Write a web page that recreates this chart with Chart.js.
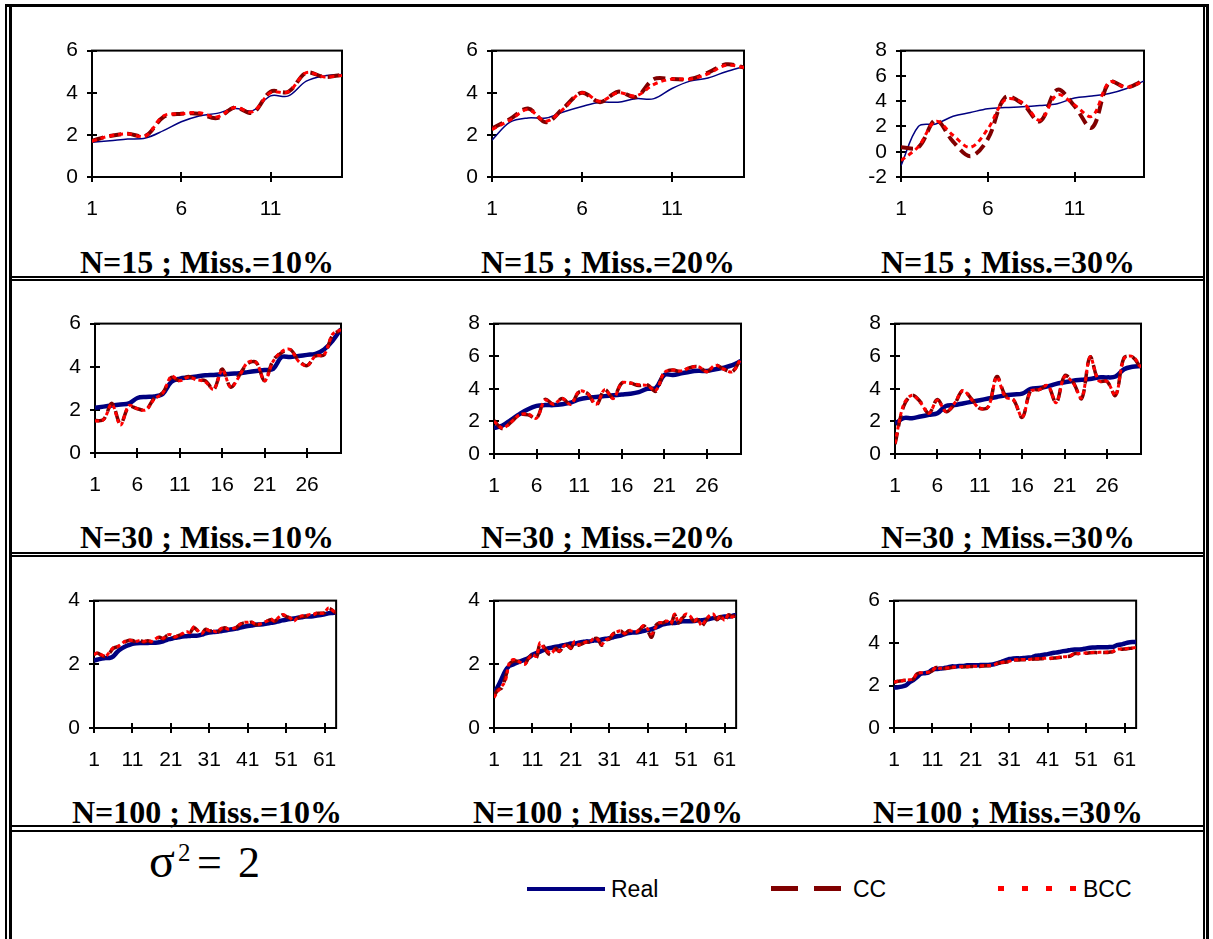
<!DOCTYPE html>
<html>
<head>
<meta charset="utf-8">
<script src="https://cdn.jsdelivr.net/npm/chart.js@4.4.0/dist/chart.umd.min.js"></script>
<style>
  body { margin: 0; background: #fff; width: 1213px; height: 939px; position: relative; overflow: hidden; }
  .ln { position: absolute; background: #000; }
  .title { position: absolute; width: 400px; height: 36px; line-height: 36px; text-align: center;
           font: bold 32px "Liberation Serif", "Times New Roman", serif; color: #000; white-space: nowrap; }
  .leg { position: absolute; font: 23px "Liberation Sans", Arial, sans-serif; color: #000; line-height: 26px; }
  .sw { position: absolute; }
  .eq { position: absolute; font-family: "Liberation Serif", "Times New Roman", serif; color: #000; line-height: 1; }
</style>
</head>
<body>
<span class="eq" style="left:149px;top:837px;font-size:48px">σ</span>
<span class="eq" style="left:178px;top:840px;font-size:25px">2</span>
<span class="eq" style="left:197px;top:841px;font-size:44px">=</span>
<span class="eq" style="left:238px;top:841px;font-size:44px">2</span>

<div class="sw" style="left:527px;top:887px;width:78px;height:4px;background:#000080"></div>
<div class="leg" style="left:611px;top:876px">Real</div>
<div class="sw" style="left:771px;top:886px;width:70px;height:5px;background:repeating-linear-gradient(to right,#800000 0 27px,transparent 27px 43px)"></div>
<div class="leg" style="left:853px;top:876px">CC</div>
<div class="sw" style="left:998px;top:886px;width:78px;height:5px;background:repeating-linear-gradient(to right,#ff0000 0 6px,transparent 6px 24px)"></div>
<div class="leg" style="left:1083px;top:876px">BCC</div>

<script>
// ---- axis ticks ----
const xTicks15 = [1, 6, 11];
const xTicks30 = [1, 6, 11, 16, 21, 26];
const xTicks100 = [1, 11, 21, 31, 41, 51, 61];
const yTicks06 = [0, 2, 4, 6];
const yTicks08 = [0, 2, 4, 6, 8];
const yTicksM28 = [-2, 0, 2, 4, 6, 8];
const yTicks04 = [0, 2, 4];

const titles = [
  "N=15 ; Miss.=10%", "N=15 ; Miss.=20%", "N=15 ; Miss.=30%",
  "N=30 ; Miss.=10%", "N=30 ; Miss.=20%", "N=30 ; Miss.=30%",
  "N=100 ; Miss.=10%", "N=100 ; Miss.=20%", "N=100 ; Miss.=30%"
];

// ---- N=15 ----
const p1Real = [1.65, 1.72, 1.8, 1.85, 2.2, 2.62, 2.9, 3.02, 3.25, 3.15, 3.85, 3.85, 4.55, 4.8, 4.87];
const p1CC   = [1.72, 1.95, 2.05, 1.95, 2.85, 3.0, 3.0, 2.8, 3.3, 3.05, 4.05, 4.05, 4.95, 4.75, 4.85];
const p1BCC  = [1.7, 1.95, 2.05, 1.95, 2.9, 3.0, 3.05, 2.85, 3.3, 3.1, 4.0, 4.05, 4.95, 4.75, 4.82];

const p2Real = [1.75, 2.6, 2.8, 2.8, 3.1, 3.35, 3.55, 3.55, 3.72, 3.72, 4.2, 4.55, 4.7, 5.0, 5.25];
const p2CC   = [2.3, 2.75, 3.25, 2.6, 3.3, 4.0, 3.55, 4.05, 3.8, 4.65, 4.65, 4.65, 4.95, 5.35, 5.2];
const p2BCC  = [2.25, 2.7, 3.2, 2.65, 3.25, 4.0, 3.6, 4.0, 3.85, 4.4, 4.65, 4.65, 4.9, 5.3, 5.2];

const p3Real = [-1.1, 2.0, 2.2, 2.8, 3.1, 3.4, 3.5, 3.55, 3.65, 3.8, 4.25, 4.4, 4.6, 5.0, 5.6];
const p3CC   = [0.35, 0.35, 2.5, 0.8, -0.35, 1.0, 4.3, 3.8, 2.4, 4.9, 3.6, 1.9, 5.5, 5.1, 5.65];
const p3BCC  = [-0.7, 0.4, 2.4, 1.3, 0.35, 1.8, 4.1, 3.9, 2.5, 4.5, 3.7, 2.8, 5.5, 5.1, 5.6];

// ---- N=30 ----
const p4Real = [2.1, 2.15, 2.2, 2.25, 2.3, 2.55, 2.6, 2.62, 2.75, 3.3, 3.45, 3.5, 3.55, 3.6, 3.62,
                3.65, 3.68, 3.7, 3.75, 3.8, 3.85, 3.9, 4.45, 4.45, 4.5, 4.55, 4.6, 4.8, 5.2, 5.75];
const p4CC   = [1.5, 1.55, 2.3, 1.35, 2.15, 2.05, 2.0, 2.55, 2.8, 3.5, 3.35, 3.55, 3.4, 3.35, 2.95,
                3.9, 3.05, 3.6, 4.15, 4.2, 3.35, 4.3, 4.65, 4.8, 4.3, 4.05, 4.5, 4.55, 5.45, 5.7];
const p4BCC  = [1.48, 1.55, 2.25, 1.3, 2.2, 2.05, 2.0, 2.5, 2.78, 3.55, 3.35, 3.5, 3.4, 3.3, 2.95,
                3.85, 3.05, 3.55, 4.2, 4.2, 3.35, 4.25, 4.7, 4.8, 4.25, 4.05, 4.5, 4.55, 5.5, 5.72];

const p5Real = [1.6, 1.75, 2.1, 2.45, 2.75, 2.95, 3.0, 3.0, 3.05, 3.15, 3.35, 3.45, 3.5, 3.55, 3.6,
                3.65, 3.7, 3.8, 4.0, 4.05, 4.85, 4.85, 4.95, 5.05, 5.1, 5.1, 5.2, 5.3, 5.45, 5.7];
const p5CC   = [2.05, 1.55, 1.95, 2.4, 2.4, 2.2, 3.35, 3.05, 3.4, 3.05, 3.8, 3.7, 3.0, 3.95, 3.45,
                4.35, 4.35, 4.2, 4.25, 3.85, 5.0, 5.15, 5.05, 5.3, 5.35, 5.05, 5.45, 5.2, 5.05, 5.9];
const p5BCC  = [2.0, 1.6, 1.95, 2.4, 2.45, 2.2, 3.3, 3.05, 3.4, 3.05, 3.85, 3.7, 3.05, 3.95, 3.4,
                4.35, 4.35, 4.25, 4.2, 3.9, 5.0, 5.15, 5.1, 5.3, 5.35, 5.05, 5.45, 5.2, 5.05, 5.85];

const p6Real = [1.85, 2.2, 2.2, 2.3, 2.4, 2.5, 2.95, 3.0, 3.1, 3.2, 3.3, 3.4, 3.5, 3.6, 3.65,
                3.7, 4.0, 4.05, 4.15, 4.3, 4.4, 4.5, 4.55, 4.6, 4.7, 4.7, 4.75, 5.2, 5.35, 5.4];
const p6CC   = [0.6, 2.9, 3.6, 3.2, 2.5, 3.35, 2.6, 3.05, 3.9, 3.4, 2.8, 2.9, 4.75, 3.6, 3.3,
                2.25, 3.9, 3.95, 4.2, 3.15, 4.8, 4.4, 3.4, 5.95, 4.5, 4.45, 3.6, 5.9, 5.95, 5.25];
const p6BCC  = [0.65, 3.0, 3.6, 3.15, 2.5, 3.3, 2.6, 3.1, 3.9, 3.35, 2.8, 2.9, 4.7, 3.5, 3.3,
                2.25, 3.85, 3.95, 4.2, 3.15, 4.75, 4.35, 3.45, 5.95, 4.5, 4.45, 3.6, 5.85, 5.98, 5.3];

// ---- N=100 ----
const p7Real = [2.12, 2.15, 2.18, 2.2, 2.2, 2.25, 2.38, 2.48,
                2.55, 2.6, 2.64, 2.66, 2.67, 2.67, 2.67, 2.68,
                2.68, 2.69, 2.72, 2.77, 2.8, 2.83, 2.85, 2.87,
                2.88, 2.89, 2.9, 2.9, 2.93, 2.97, 3.0, 3.01,
                3.02, 3.04, 3.06, 3.08, 3.1, 3.12, 3.15, 3.18,
                3.2, 3.22, 3.24, 3.25, 3.26, 3.28, 3.3, 3.32,
                3.35, 3.38, 3.4, 3.42, 3.44, 3.46, 3.48, 3.5,
                3.5, 3.51, 3.53, 3.55, 3.57, 3.6, 3.61, 3.62];
const p7CC   = [2.32, 2.35, 2.28, 2.25, 2.35, 2.5, 2.55, 2.6,
                2.7, 2.75, 2.75, 2.7, 2.75, 2.7, 2.74, 2.7,
                2.78, 2.85, 2.8, 2.9, 2.92, 2.85, 2.9, 2.95,
                3.02, 3.0, 3.15, 3.05, 2.95, 3.1, 3.05, 3.05,
                3.0, 3.1, 3.15, 3.1, 3.1, 3.15, 3.25, 3.3,
                3.3, 3.32, 3.25, 3.25, 3.28, 3.35, 3.4, 3.35,
                3.45, 3.55, 3.5, 3.45, 3.35, 3.45, 3.5, 3.5,
                3.55, 3.55, 3.6, 3.6, 3.62, 3.75, 3.7, 3.6];
const p7BCC  = [2.3, 2.36, 2.3, 2.25, 2.38, 2.52, 2.55, 2.62,
                2.72, 2.76, 2.74, 2.72, 2.75, 2.72, 2.76, 2.72,
                2.8, 2.86, 2.82, 2.92, 2.93, 2.86, 2.92, 2.96,
                3.03, 3.0, 3.18, 3.06, 2.96, 3.1, 3.06, 3.05,
                3.02, 3.12, 3.15, 3.1, 3.12, 3.17, 3.26, 3.32,
                3.32, 3.33, 3.27, 3.26, 3.3, 3.36, 3.42, 3.36,
                3.47, 3.56, 3.52, 3.46, 3.36, 3.46, 3.52, 3.52,
                3.56, 3.56, 3.62, 3.6, 3.63, 3.77, 3.7, 3.62];

const p8Real = [1.1, 1.3, 1.55, 1.8, 1.95, 2.0, 2.05, 2.1,
                2.15, 2.2, 2.3, 2.35, 2.4, 2.45, 2.5, 2.52,
                2.55, 2.57, 2.6, 2.62, 2.65, 2.65, 2.68, 2.7,
                2.72, 2.72, 2.75, 2.75, 2.78, 2.8, 2.82, 2.85,
                2.88, 2.9, 2.95, 2.98, 3.0, 3.0, 3.02, 3.05,
                3.08, 3.1, 3.15, 3.2, 3.25, 3.28, 3.3, 3.3,
                3.32, 3.35, 3.35, 3.35, 3.36, 3.38, 3.38, 3.4,
                3.42, 3.45, 3.45, 3.48, 3.5, 3.5, 3.52, 3.55];
const p8CC   = [1.0, 1.2, 1.25, 1.6, 2.0, 2.1, 2.1, 2.05,
                2.0, 2.2, 2.3, 2.2, 2.65, 2.55, 2.35, 2.3,
                2.5, 2.4, 2.55, 2.6, 2.5, 2.7, 2.6, 2.65,
                2.7, 2.7, 2.8, 2.8, 2.6, 2.75, 2.8, 2.95,
                3.0, 3.05, 2.95, 3.05, 3.05, 3.0, 3.1, 3.2,
                3.05, 2.85, 3.2, 3.3, 3.3, 3.35, 3.25, 3.55,
                3.3, 3.45, 3.55, 3.5, 3.35, 3.4, 3.2, 3.35,
                3.5, 3.55, 3.4, 3.5, 3.35, 3.55, 3.5, 3.55];
const p8BCC  = [0.95, 1.15, 1.3, 1.5, 2.05, 2.15, 2.12, 2.05,
                2.0, 2.18, 2.3, 2.25, 2.68, 2.5, 2.4, 2.35,
                2.48, 2.42, 2.55, 2.62, 2.52, 2.72, 2.62, 2.66,
                2.7, 2.72, 2.8, 2.78, 2.62, 2.76, 2.82, 2.96,
                3.02, 3.05, 2.97, 3.06, 3.04, 3.02, 3.12, 3.22,
                3.1, 2.95, 3.15, 3.3, 3.32, 3.36, 3.28, 3.58,
                3.32, 3.48, 3.58, 3.52, 3.36, 3.42, 3.22, 3.38,
                3.52, 3.58, 3.42, 3.52, 3.38, 3.56, 3.48, 3.58];

const p9Real = [1.9, 1.92, 1.95, 2.0, 2.15, 2.25, 2.4, 2.55,
                2.58, 2.62, 2.75, 2.78, 2.8, 2.82, 2.85, 2.9,
                2.9, 2.92, 2.92, 2.95, 2.95, 2.96, 2.96, 2.97,
                2.97, 2.98, 3.0, 3.05, 3.12, 3.18, 3.25, 3.27,
                3.28, 3.28, 3.3, 3.32, 3.34, 3.4, 3.42, 3.45,
                3.48, 3.52, 3.55, 3.58, 3.62, 3.64, 3.68, 3.7,
                3.7, 3.71, 3.75, 3.78, 3.79, 3.8, 3.8, 3.8,
                3.81, 3.82, 3.9, 3.93, 3.98, 4.03, 4.05, 4.05];
const p9CC   = [2.15, 2.2, 2.22, 2.25, 2.25, 2.3, 2.55, 2.6,
                2.6, 2.62, 2.7, 2.85, 2.8, 2.8, 2.82, 2.85,
                2.86, 2.87, 2.88, 2.88, 2.9, 2.9, 2.9, 2.92,
                2.93, 2.93, 2.96, 3.05, 3.08, 3.1, 3.12, 3.2,
                3.2, 3.21, 3.22, 3.22, 3.24, 3.25, 3.26, 3.27,
                3.28, 3.28, 3.3, 3.32, 3.34, 3.36, 3.4, 3.5,
                3.5, 3.52, 3.52, 3.54, 3.55, 3.55, 3.56, 3.56,
                3.57, 3.6, 3.7, 3.71, 3.72, 3.74, 3.76, 3.78];
const p9BCC  = [2.17, 2.2, 2.23, 2.26, 2.27, 2.32, 2.57, 2.6,
                2.61, 2.63, 2.72, 2.86, 2.81, 2.82, 2.83, 2.86,
                2.87, 2.88, 2.89, 2.89, 2.9, 2.91, 2.91, 2.93,
                2.94, 2.94, 2.97, 3.06, 3.09, 3.12, 3.14, 3.21,
                3.21, 3.22, 3.23, 3.23, 3.25, 3.26, 3.27, 3.28,
                3.29, 3.29, 3.31, 3.33, 3.35, 3.37, 3.42, 3.51,
                3.51, 3.53, 3.53, 3.55, 3.56, 3.56, 3.57, 3.57,
                3.58, 3.61, 3.71, 3.72, 3.73, 3.75, 3.77, 3.79];

const realSeries = [p1Real, p2Real, p3Real, p4Real, p5Real, p6Real, p7Real, p8Real, p9Real];
const ccSeries   = [p1CC, p2CC, p3CC, p4CC, p5CC, p6CC, p7CC, p8CC, p9CC];
const bccSeries  = [p1BCC, p2BCC, p3BCC, p4BCC, p5BCC, p6BCC, p7BCC, p8BCC, p9BCC];
const yTickSets  = [yTicks06, yTicks06, yTicksM28, yTicks06, yTicks08, yTicks08, yTicks04, yTicks04, yTicks06];
const xTickSets  = [xTicks15, xTicks30, xTicks100];
const xMax       = [15, 30, 64];

// plot area boxes in page pixels (left, right, top, bottom)
const boxes = [
  [92, 342, 39, 177], [492, 744, 39, 177], [901, 1144, 39, 177],
  [95, 341, 312, 453], [494, 741, 312, 454], [895, 1141, 312, 454],
  [94, 342, 589, 728], [494, 742, 589, 728], [894, 1142, 589, 728]
];
const titleCx = [207, 608, 1008];
const titleCy = [262, 537, 812];

// table rules
const rules = [
  [6, 4, 1203, 3],      // top
  [5, 4, 2, 935],       // left outer
  [9, 7, 3, 932],       // left inner
  [1203, 7, 2, 932],    // right inner
  [1206, 4, 3, 935],    // right outer
  [9, 276, 1196, 2], [9, 279, 1196, 2],
  [9, 552, 1196, 2], [9, 555, 1196, 2],
  [9, 825, 1196, 2], [9, 830, 1196, 2]
];
rules.forEach(r => {
  const d = document.createElement("div");
  d.className = "ln";
  d.style.cssText = `left:${r[0]}px;top:${r[1]}px;width:${r[2]}px;height:${r[3]}px`;
  document.body.appendChild(d);
});

Chart.defaults.font.family = "'Liberation Sans', Arial, sans-serif";
Chart.defaults.font.size = 21;
Chart.defaults.color = "#000";

// box round the plot area + tick marks crossing the axes
const framePlugin = {
  id: "frame",
  beforeDatasetsDraw(chart) {
    const { ctx, chartArea: a, scales } = chart;
    ctx.save();
    ctx.strokeStyle = "#000";
    ctx.lineWidth = 2;
    ctx.strokeRect(a.left, a.top, a.right - a.left, a.bottom - a.top);
    ctx.beginPath();
    scales.x.ticks.forEach(t => {
      const px = Math.round(scales.x.getPixelForValue(t.value));
      ctx.moveTo(px, a.bottom - 5);
      ctx.lineTo(px, a.bottom + 5);
    });
    scales.y.ticks.forEach(t => {
      const py = Math.round(scales.y.getPixelForValue(t.value));
      ctx.moveTo(a.left - 5, py);
      ctx.lineTo(a.left + 5, py);
    });
    ctx.stroke();
    ctx.restore();
  }
};

function toXY(arr) {
  return arr.map((v, k) => ({ x: k + 1, y: v }));
}

function makePanel(i) {
  const [L, R, T, B] = boxes[i];
  const row = Math.floor(i / 3);
  const padL = 60, padT = 15, padR = 15, padB = 50;
  const w = R - L + padL + padR;
  const h = B - T + padT + padB;

  const canvas = document.createElement("canvas");
  canvas.width = w;
  canvas.height = h;
  canvas.style.cssText = `position:absolute;left:${L - padL}px;top:${T - padT}px;width:${w}px;height:${h}px`;
  document.body.appendChild(canvas);

  const yt = yTickSets[i];
  const thin = row === 0;

  new Chart(canvas, {
    type: "line",
    data: {
      datasets: [
        { label: "BCC", data: toXY(bccSeries[i]), borderColor: "#ff0000", borderWidth: 3,
          borderDash: thin ? [5, 4] : [4, 3], order: 1 },
        { label: "CC", data: toXY(ccSeries[i]), borderColor: "#800000", borderWidth: thin ? 4 : 3.5,
          borderDash: [12, 6], order: 2 },
        { label: "Real", data: toXY(realSeries[i]), borderColor: "#000080", borderWidth: thin ? 1.5 : 4.5,
          order: 3 }
      ]
    },
    options: {
      responsive: false,
      animation: false,
      devicePixelRatio: 1,
      layout: { padding: { top: padT, right: padR, left: 0, bottom: 0 } },
      elements: { point: { radius: 0 }, line: { tension: 0.35, fill: false } },
      plugins: { legend: { display: false }, tooltip: { enabled: false } },
      scales: {
        x: {
          type: "linear", min: 1, max: xMax[row],
          grid: { display: false, drawTicks: false }, border: { display: false },
          afterBuildTicks: s => { s.ticks = xTickSets[row].map(v => ({ value: v })); },
          afterFit: s => { s.height = padB; },
          ticks: { padding: 20, autoSkip: false, maxRotation: 0, font: { size: 21 } }
        },
        y: {
          min: yt[0], max: yt[yt.length - 1],
          grid: { display: false, drawTicks: false }, border: { display: false },
          afterBuildTicks: s => { s.ticks = yt.map(v => ({ value: v })); },
          afterFit: s => { s.width = padL; },
          ticks: { padding: 14, autoSkip: false, font: { size: 21 } }
        }
      }
    },
    plugins: [framePlugin]
  });

  const t = document.createElement("div");
  t.className = "title";
  t.textContent = titles[i];
  t.style.left = (titleCx[i % 3] - 200) + "px";
  t.style.top = (titleCy[row] - 18) + "px";
  document.body.appendChild(t);
}

for (let i = 0; i < 9; i++) makePanel(i);
</script>
</body>
</html>
